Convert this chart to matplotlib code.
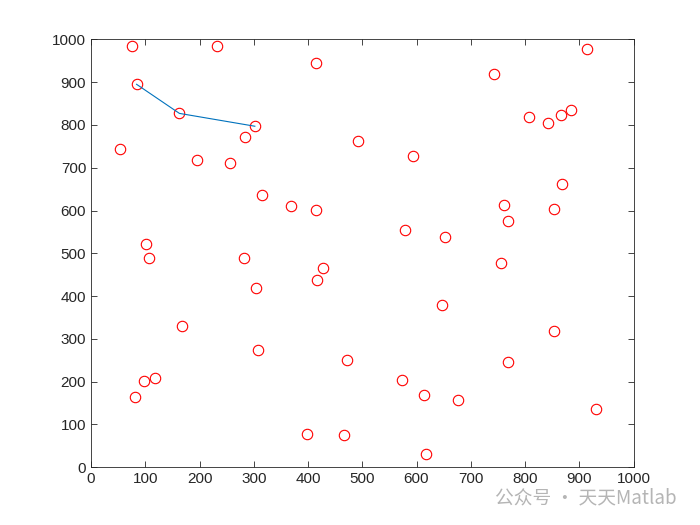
import matplotlib as mpl
import matplotlib.pyplot as plt

# scattered points (red open circles)
x_pts = [76, 232, 414, 84, 163, 302, 283, 493, 54, 195, 256, 315, 369, 414, 101,
         914, 742, 807, 842, 867, 885, 593, 868, 762, 853, 768, 579, 652,
         106, 282, 427, 416, 305, 167, 308, 472, 118, 98, 81, 399, 466,
         756, 647, 853, 768, 573, 614, 677, 930, 618]
y_pts = [985, 985, 945, 895, 827, 797, 773, 763, 743, 719, 710, 636, 610, 601, 522,
         977, 919, 818, 805, 824, 836, 728, 662, 614, 603, 576, 555, 539,
         488, 490, 466, 438, 420, 330, 274, 250, 209, 201, 165, 77, 75,
         478, 379, 319, 247, 204, 169, 158, 137, 31]

# path drawn through a few of them
path_x = [84, 163, 302]
path_y = [895, 827, 797]

mpl.rcParams["font.family"] = ["Liberation Sans", "DejaVu Sans"]

fig = plt.figure(figsize=(7, 5.25), dpi=100)
ax = fig.add_axes([0.13, 0.11, 0.775, 0.815])

ax.plot(x_pts, y_pts, 'o', linestyle='none', markerfacecolor='none',
        markeredgecolor='#ff0000', markersize=7.5, markeredgewidth=0.8)
ax.plot(path_x, path_y, color='#0072BD', linewidth=0.8)

ax.set_xlim(0, 1000)
ax.set_ylim(0, 1000)
ax.set_xticks(range(0, 1001, 100))
ax.set_yticks(range(0, 1001, 100))
ax.tick_params(direction='in', top=True, right=True, length=4, width=0.6,
               labelsize=11, colors='#262626')
for s in ax.spines.values():
    s.set_linewidth(0.6)
    s.set_color('#262626')

# watermark
fig.text(0.707, 0.051, "公众号 · 天天Matlab", fontsize=13.5, color='#b5b5b5',
         family=['Noto Sans CJK SC', 'DejaVu Sans'], va='center', ha='left')

fig.savefig("out.png", dpi=100)
